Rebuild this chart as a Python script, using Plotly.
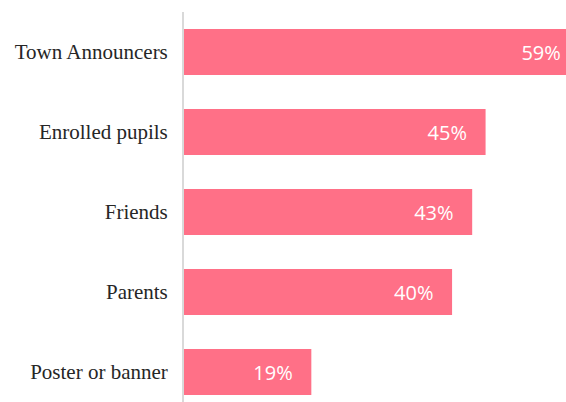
import plotly.graph_objects as go

# Share of respondents by information source (listed bottom to top)
sources = ["Poster or banner", "Parents", "Friends", "Enrolled pupils", "Town Announcers"]
shares = [19, 40, 43, 45, 59]
value_labels = [f"{v}%" for v in shares]

BAR_COLOR = "#FF7087"

fig = go.Figure(
    go.Bar(
        x=shares,
        y=sources,
        orientation="h",
        marker=dict(color=BAR_COLOR, line=dict(width=0)),
        # trailing non-breaking spaces keep the label away from the bar end
        text=[t + "\u00a0\u00a0\u00a0" for t in value_labels],
        textposition="inside",
        insidetextanchor="end",
        textangle=0,
        insidetextfont=dict(family="Open Sans", size=20, color="white"),
        cliponaxis=True,
        hoverinfo="skip",
    )
)

fig.update_layout(
    width=566,
    height=402,
    margin=dict(l=184, r=0, t=12, b=0),
    paper_bgcolor="white",
    plot_bgcolor="white",
    bargap=0.425,
    showlegend=False,
)

fig.update_xaxes(
    range=[0, 57.0],
    visible=False,
    showgrid=False,
    zeroline=False,
)

fig.update_yaxes(
    categoryorder="array",
    categoryarray=sources,
    range=[-0.375, 4.5],
    showline=True,
    linecolor="#D9D9D9",
    linewidth=2,
    showgrid=False,
    zeroline=False,
    ticks="",
    ticklabelstandoff=10,
    tickfont=dict(family="Palatino Linotype, Book Antiqua, Liberation Serif, serif", size=21, color="#262626"),
)

fig.write_html("out.html")
